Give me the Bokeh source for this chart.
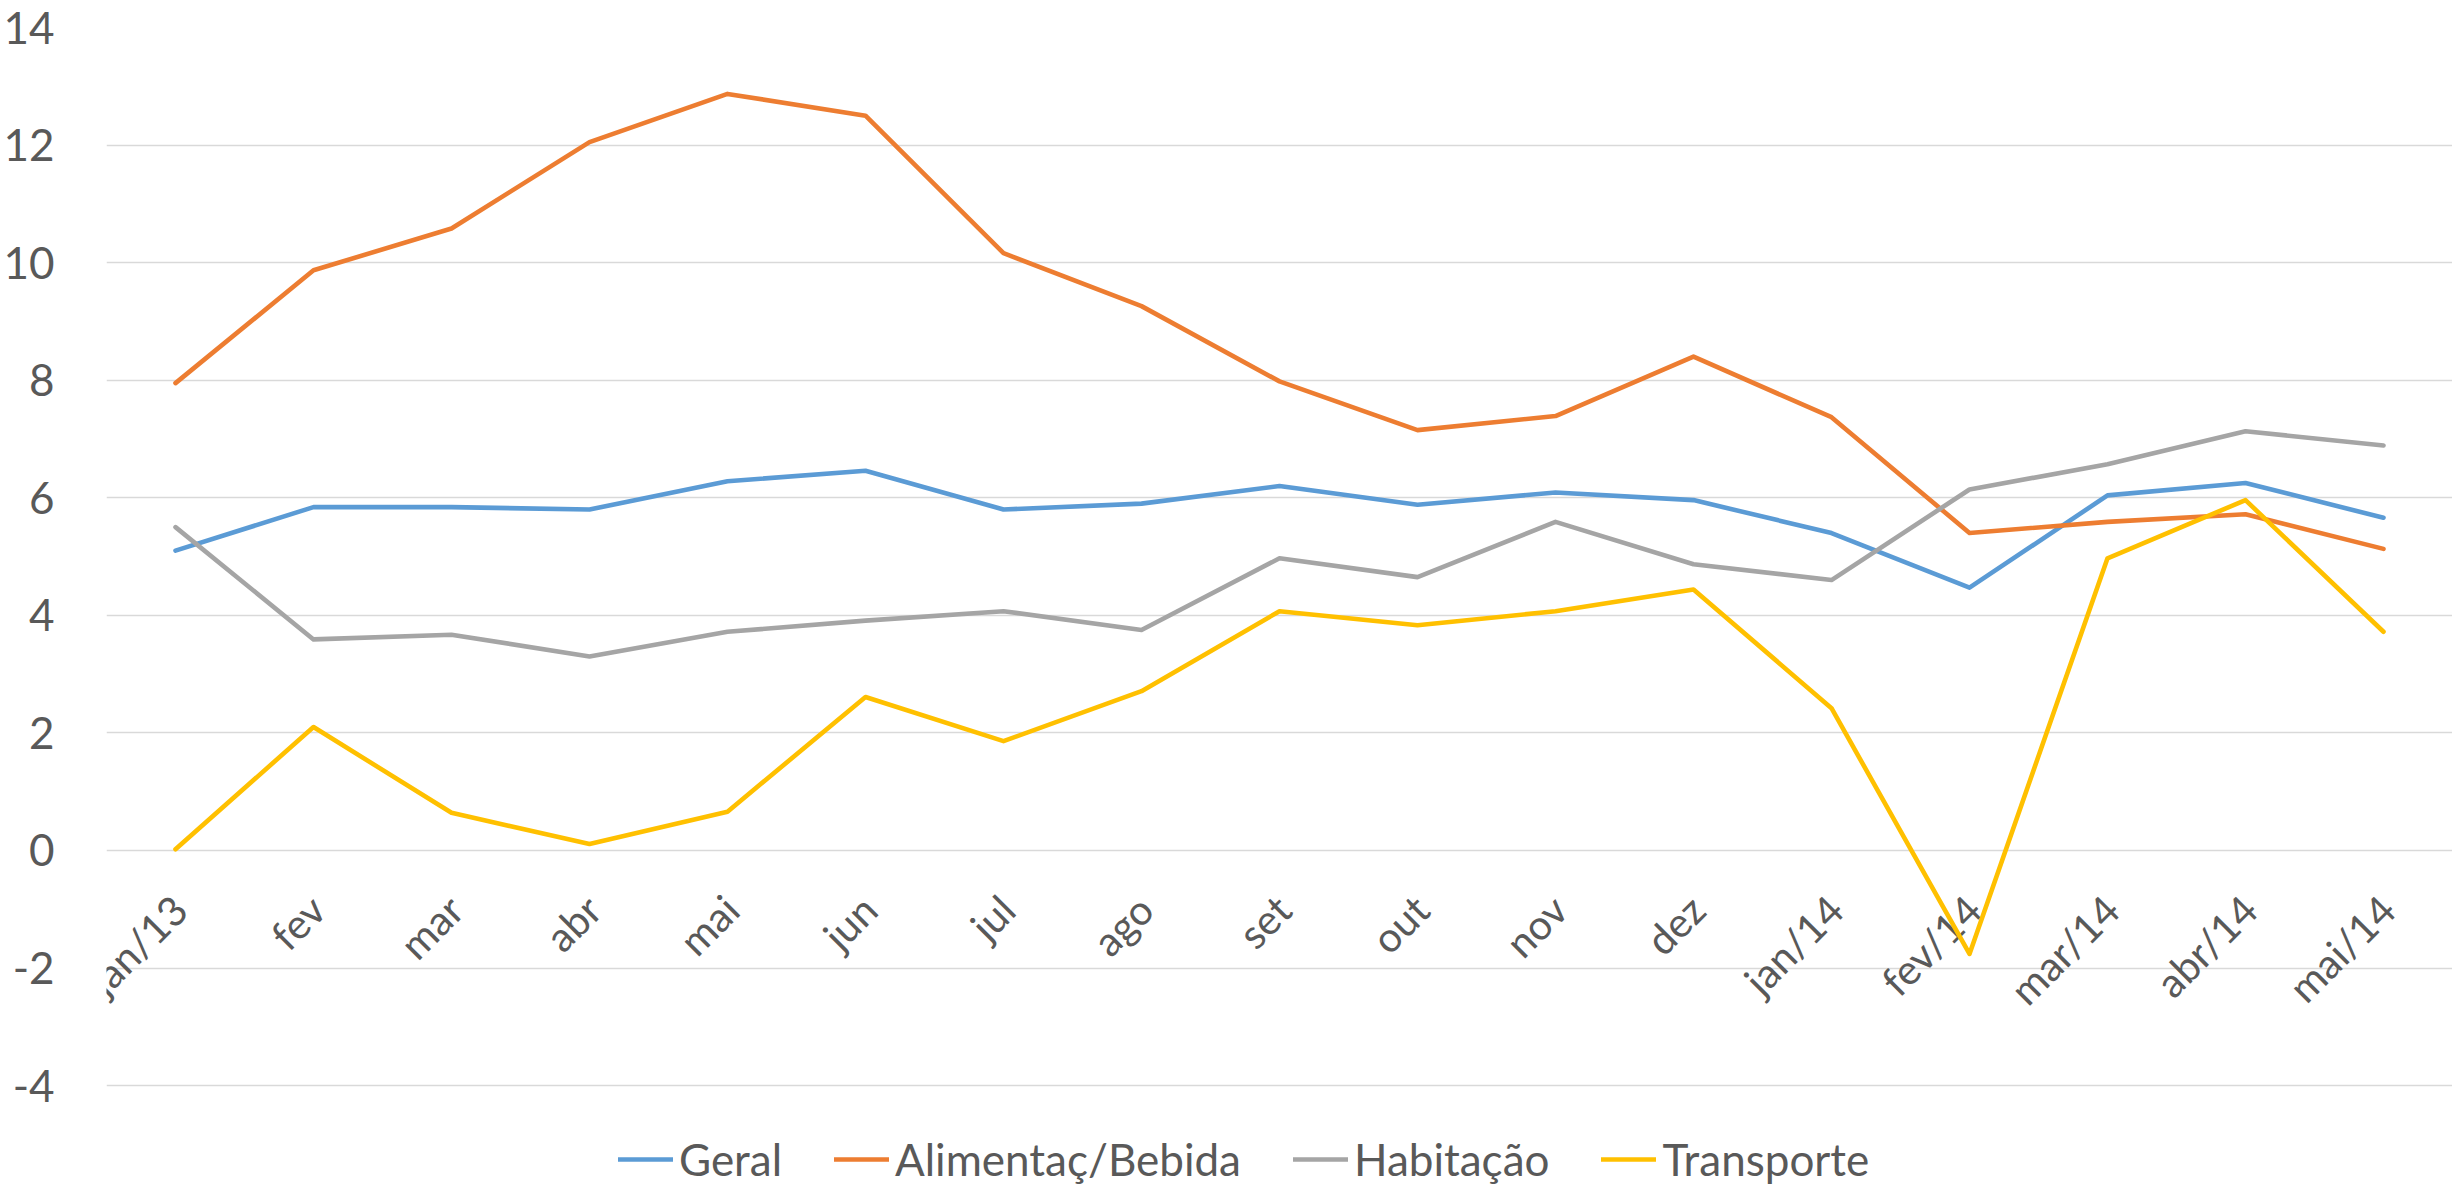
from bokeh.plotting import figure
from bokeh.models import (Range1d, FactorRange, FixedTicker, Legend, LegendItem,
                          LabelSet, ColumnDataSource)
from bokeh.core.properties import value
from bokeh.embed import file_html
from bokeh.resources import INLINE
import math

months = ["jan/13", "fev", "mar", "abr", "mai", "jun", "jul", "ago", "set",
          "out", "nov", "dez", "jan/14", "fev/14", "mar/14", "abr/14", "mai/14"]
geral = [5.10, 5.84, 5.84, 5.80, 6.28, 6.46, 5.80, 5.90, 6.20, 5.88, 6.09, 5.96,
         5.40, 4.47, 6.04, 6.25, 5.66]
alimentacao = [7.95, 9.87, 10.58, 12.05, 12.87, 12.50, 10.16, 9.26, 7.98, 7.15,
               7.39, 8.40, 7.37, 5.40, 5.59, 5.72, 5.13]
habitacao = [5.50, 3.59, 3.67, 3.30, 3.72, 3.91, 4.07, 3.75, 4.97, 4.65, 5.59,
             4.87, 4.60, 6.14, 6.57, 7.13, 6.89]
transporte = [0.02, 2.10, 0.64, 0.11, 0.66, 2.61, 1.86, 2.71, 4.07, 3.83, 4.07,
              4.44, 2.42, -1.76, 4.97, 5.96, 3.72]
y_ticks = [-4, -2, 0, 2, 4, 6, 8, 10, 12, 14]
y_tick_labels = {t: str(t) for t in y_ticks}

series = [("Geral", geral, "#5B9BD5"),
          ("Alimentaç/Bebida", alimentacao, "#ED7D31"),
          ("Habitação", habitacao, "#A5A5A5"),
          ("Transporte", transporte, "#FFC000")]

FONT = "Lato"
TXT = "#595959"
GRID = "#D9D9D9"

# the frame runs to the bottom of the figure; the legend sits inside it below -4
p = figure(x_range=FactorRange(*months), y_range=Range1d(-5.70, 14),
           width=2452, height=1185, output_backend="svg", toolbar_location=None,
           min_border_left=105, min_border_right=0, min_border_top=27,
           min_border_bottom=0)
p.outline_line_color = None
p.background_fill_color = "white"

p.yaxis.ticker = FixedTicker(ticks=y_ticks)
p.yaxis.major_label_overrides = y_tick_labels
p.yaxis.axis_line_color = None
p.yaxis.major_tick_line_color = None
p.yaxis.minor_tick_line_color = None
p.yaxis.major_label_text_font = FONT
p.yaxis.major_label_text_font_size = "44px"
p.yaxis.major_label_text_color = TXT
p.yaxis.major_label_standoff = 46

p.ygrid.ticker = FixedTicker(ticks=y_ticks)
p.ygrid.grid_line_color = GRID
p.ygrid.grid_line_width = 1.5
p.xgrid.grid_line_color = None

p.xaxis.visible = False

# category labels sit next to the zero line, as in the original
lab_src = ColumnDataSource(dict(x=months, y=[0] * len(months), text=months))
labels = LabelSet(x="x", y="y", text="text", source=lab_src,
                  angle=math.radians(45), text_align="right",
                  text_baseline="middle", x_offset=4, y_offset=-52,
                  text_font=value(FONT), text_font_size=value("41px"),
                  text_color=TXT)
p.add_layout(labels)

items = []
for name, vals, col in series:
    r = p.line(months, vals, line_color=col, line_width=4.6, line_join="round",
               line_cap="round", level="overlay")
    items.append(LegendItem(label=name, renderers=[r]))

legend = Legend(items=items, orientation="horizontal", location=(512, 0),
                label_text_font=FONT, label_text_font_size="44px",
                label_text_color=TXT, glyph_width=55, glyph_height=20,
                label_height=20, label_standoff=6, spacing=52,
                border_line_color=None, background_fill_alpha=0, padding=0,
                margin=0)
p.add_layout(legend, "center")

open("out.html", "w").write(file_html(p, INLINE))
